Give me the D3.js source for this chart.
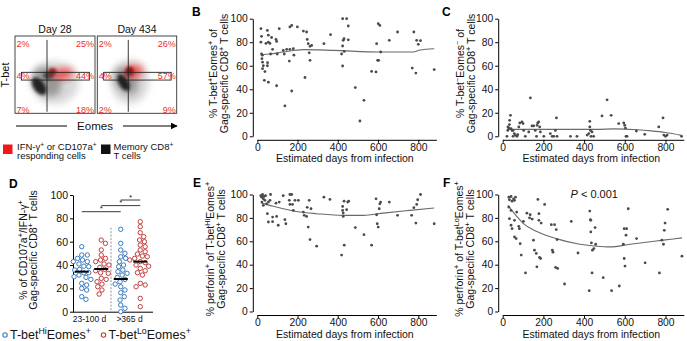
<!DOCTYPE html>
<html>
<head>
<meta charset="utf-8">
<script src="https://cdn.jsdelivr.net/npm/d3@7"></script>
<style>
  body { margin: 0; background: #fff; }
  svg { display: block; font-family: "Liberation Sans", Arial, sans-serif; }
</style>
</head>
<body>
<div id="chart"></div>
<script>
// ---------------- data ----------------
const xTicks = [0, 200, 400, 600, 800];
const yTicks = [0, 20, 40, 60, 80, 100];

// B: % T-bet+Eomes+
const bDays = [18,21,18,21,25,23,26,30,26,38,35,55,50,55,43,55,63,71,66,51,50,76,93,96,96,99,109,129,134,137,146,159,162,162,171,171,179,182,199,229,237,245,248,253,258,262,262,270,331,364,419,424,424,424,427,431,432,444,452,452,487,530,510,568,590,593,598,603,601,609,613,656,697,770,778,788,792,800,811,879];
const bPct = [91.5,85,80,70,69,66,63,60,57.5,55,47.6,46,90,86,79,80,79,84,70,62.6,60,74,82.4,80.7,43,70,91.5,73,70,25.8,74,64,74,93,94.3,38.5,74.5,69,93,89.5,50,88.7,82.4,78.8,71,76.5,64.6,77.3,78.8,86.4,70,100,76.8,59.8,81.6,83,72.2,100,93.8,82,41.4,30.6,13,55.2,54.7,78.8,64.6,64.6,95.8,94.3,71.7,81.6,88.7,58,88.7,53.8,81.6,78.2,81.3,56.7];
const bFitDays = [21,63,129,229,378,609,775,808,879];
const bFitPct = [69.4,70,71.7,73.7,73.1,71.7,71.7,73.4,74.5];

// C: % T-bet-Eomes-
const cDays = [21,25,26,30,33,34,38,41,46,51,51,57,62,70,74,79,84,95,100,103,111,128,136,144,152,160,166,169,172,177,182,185,202,234,243,251,259,264,267,333,365,415,423,428,428,431,434,439,447,488,513,533,570,595,600,603,606,611,657,698,767,788,792,800,808,879];
const cPct = [0,5,8,7,10,13.6,17.8,6.5,5,5,0,2.3,1,0,1.4,8,11.3,12.2,10.8,5,0,3.7,32.6,8.8,8.8,5,0,9.3,11.3,12.2,8,3.7,0,2.3,0,0,5,15.6,0,0,0,1,2.3,8,12.7,5,0,3.7,0,17.3,31,17.8,10.8,11.3,9.3,7,0,0,4.5,1.7,8,15.6,1,0,1,0];
const cFitDays = [21,136,300,464,546,660,730,800,879];
const cFitPct = [5.9,5.9,5.9,5.9,6.3,5.6,4.6,3.2,0.8];

// E: % perforin+ of T-betHi Eomes+
const eDays = [17,22,26,30,33,38,41,23,30,46,55,63,66,50,55,76,76,96,93,104,109,129,137,142,159,162,171,162,175,179,187,204,229,233,245,248,253,258,262,267,295,331,361,419,424,424,427,427,431,432,444,449,454,487,530,568,590,593,596,601,606,609,613,656,697,767,778,788,792,797,811,879];
const ePct = [99,97.7,100,96.3,98.3,95,99,93.5,90.7,92,93.5,95,100,83.6,76.5,80.7,76.8,81.3,92.6,73.7,93.5,99,78.5,75,95,100,100,91.5,91.5,86.4,95,95,85,82.2,81.3,89,72.2,95,61.5,87.8,55.8,97.7,95.8,48.2,89.8,86.4,84.1,81.3,94.3,56.7,87,93.5,94.3,71.7,65.7,56.7,96.3,82.7,75,72.2,87.8,92,93.5,93.5,82.2,82.2,88.7,75.6,91.5,95.5,100,75];
const eFitDays = [21,63,129,212,295,427,527,626,758,879];
const eFitPct = [92.6,90.7,87.8,85,83.6,82.2,82.2,84.1,86.4,88.4];

// F: % perforin+ of T-betLo Eomes+
const fDays = [30,33,41,46,53,58,63,30,41,69,33,58,41,46,58,66,79,82,86,91,102,112,119,132,135,145,151,156,165,168,173,178,178,181,186,189,206,239,244,247,255,260,263,267,270,304,337,370,425,428,431,433,433,436,439,441,448,454,457,494,535,573,593,597,601,597,609,606,617,658,700,770,782,790,798,794,811,881];
const fPct = [97.7,95.5,98.3,94.3,96.3,95,97.7,89.2,86.4,85,79.3,77.9,73.7,70.8,63.7,62.3,72.8,70.8,58,48.2,77,33,84,80,82.7,79,61,52.4,49.6,38.2,95.8,77.9,83.6,46.2,45.3,75.6,91.5,74.2,52.4,50.7,74.2,37.7,70,61.5,36.8,23.5,77,50,17.8,85.8,78.5,77.9,68,58.6,33,52.4,53.8,71.7,57.5,28.9,17.8,21.8,57.5,45.3,38.8,70.8,70.8,65.2,87.8,62.3,41.6,33,61,57.5,75.6,69.4,87.3,47.3];
const fFitDays = [25,66,99,165,263,379,461,527,626,790,881];
const fFitPct = [90.7,82,75.6,68.6,62.3,57.5,55.8,55.2,57.5,61,62.9];

// D: % CD107a+/IFN-g+ per phenotype and time since infection
const dPeriods = ["23-100 d", ">365 d"];
const dPhenotypes = ["Hi", "Lo"];
const dHi100 = [55.7,48.6,48.6,45.7,44.3,42.9,42.9,40.9,39,38.6,36.3,35.7,33.4,33.4,31.4,30,29.4,27.7,24.3,22.9,20,18.6,12.9,10.6];
const dLo100 = [61.4,58.6,52.9,48.6,45.7,44.3,42.9,40.9,40,38,36.3,35.1,33.4,32.9,28.6,27.7,25.7,23.7,21.4,18.6,15.1];
const dHi365 = [70.6,58.6,52.9,50,47,45.7,42.9,40,38.6,35.7,34.3,32.9,31.4,29.4,27.7,25.7,23.7,21.4,18.6,16.3,12.9,10,5.7,2.9,0];
const dLo365 = [77.1,72.9,67.7,64.3,61.4,60,57.1,55.7,52.9,51.4,49.4,47.7,47.1,45.7,44.3,42.9,42,40,39,37.1,35.1,33.4,31.4,24.3,22.9,21.4,11.4,4.3];
const dMeans = [34.3, 36.6, 28, 42.9];
// [from group, to group, bar height]
const dSignif = [[0, 2, 85.7], [1, 3, 90.9], [2, 3, 95.7]];

// A: flow plots
const flowDays = ["Day 28", "Day 434"];
// quadrant %: TL, TR, ML, MR, BL, BR
const flowPct = [["2%","25%","4%","44%","7%","18%"], ["2%","26%","4%","57%","2%","9%"]];
const eomesGate = [0.40, 0.39];
const tbetBand = [0.43, 0.53];
// density blobs: [eomes, tbet, spread eomes, spread tbet, angle], light -> dense
const memoryBlobs = [
  [[0.50,0.40,0.30,0.28,0],[0.40,0.41,0.16,0.21,-40],[0.30,0.35,0.07,0.13,-35],[0.42,0.49,0.07,0.05,0]],
  [[0.41,0.41,0.24,0.29,0],[0.36,0.42,0.13,0.19,-35],[0.33,0.40,0.06,0.12,-30],[0.40,0.52,0.06,0.05,0]]
];
const respondingBlobs = [
  [[0.60,0.51,0.13,0.07,-8],[0.47,0.54,0.05,0.045,0]],
  [[0.46,0.54,0.12,0.08,-10],[0.41,0.56,0.05,0.045,0]]
];

// ---------------- drawing ----------------
const W = 687, H = 341;
const svg = d3.select("#chart").append("svg")
  .attr("width", W).attr("height", H)
  .style("background", "#fff");

const defs = svg.append("defs");
defs.append("filter").attr("id", "blurWide").attr("x", "-50%").attr("y", "-50%").attr("width", "200%").attr("height", "200%")
  .append("feGaussianBlur").attr("stdDeviation", 3.5);
defs.append("filter").attr("id", "blurTight").attr("x", "-50%").attr("y", "-50%").attr("width", "200%").attr("height", "200%")
  .append("feGaussianBlur").attr("stdDeviation", 1.6);

const arrowId = "arrowHead";
defs.append("marker").attr("id", arrowId).attr("viewBox", "0 0 10 10")
  .attr("refX", 9).attr("refY", 5).attr("markerWidth", 7).attr("markerHeight", 7).attr("orient", "auto")
  .append("path").attr("d", "M0,0 L10,5 L0,10 z").attr("fill", "#000");

// text with ^{...} superscripts
function rich(sel, str) {
  str.split(/(\^\{[^}]*\})/).forEach(p => {
    if (!p) return;
    const m = p.match(/^\^\{([^}]*)\}$/);
    if (m) sel.append("tspan").attr("baseline-shift", "super").attr("font-size", "70%").text(m[1]);
    else sel.append("tspan").text(p);
  });
  return sel;
}

function panelLetter(x, y, s) {
  svg.append("text").attr("x", x).attr("y", y).attr("font-size", 12).attr("font-weight", "bold").text(s);
}

// ----- scatter panels B, C, E, F
const scatterPanels = [
  { letter: "B", days: bDays, pct: bPct, fitDays: bFitDays, fitPct: bFitPct, xr: [257.3, 436.4], yr: [136.3, 18.7],
    titleY: 162, lx: [192, 16], tx: [216.5, 227.5], title: ["% T-bet^{+}Eomes^{+} of", "Gag-specific CD8^{+} T cells"] },
  { letter: "C", days: cDays, pct: cPct, fitDays: cFitDays, fitPct: cFitPct, xr: [502.7, 683.8], yr: [136.3, 18.7],
    titleY: 162, lx: [442, 16], tx: [463.5, 475], title: ["% T-bet^{−}Eomes^{−} of", "Gag-specific CD8^{+} T cells"] },
  { letter: "E", days: eDays, pct: ePct, fitDays: eFitDays, fitPct: eFitPct, xr: [257.3, 436.4], yr: [311.5, 194.5],
    titleY: 338, lx: [193, 187], tx: [213.5, 224.5], title: ["% perforin^{+} of T-bet^{Hi}Eomes^{+}", "Gag-specific CD8^{+} T cells"] },
  { letter: "F", days: fDays, pct: fPct, fitDays: fFitDays, fitPct: fFitPct, xr: [502.7, 683.8], yr: [311.5, 194.5],
    titleY: 338, lx: [443, 187], tx: [463, 474], title: ["% perforin^{+} of T-bet^{Lo}Eomes^{+}", "Gag-specific CD8^{+} T cells"] }
];

scatterPanels.forEach(p => {
  const x = d3.scaleLinear().domain([0, 890]).range(p.xr);
  const y = d3.scaleLinear().domain([0, 100]).range(p.yr);
  const g = svg.append("g");

  const yAxis = g.append("g")
    .attr("transform", `translate(${p.xr[0] - 4.5},0)`)
    .call(d3.axisLeft(y).tickValues(yTicks).tickSize(3).tickSizeOuter(0).tickPadding(2));
  const xAxis = g.append("g")
    .attr("transform", `translate(0,${p.yr[0] + 3.5})`)
    .call(d3.axisBottom(x).tickValues(xTicks).tickSize(3).tickSizeOuter(0).tickPadding(0.5));
  [yAxis, xAxis].forEach(a => {
    a.attr("font-family", null);
    a.selectAll("text").attr("font-size", 10.3).attr("fill", "#111");
  });

  g.append("path")
    .datum(p.fitDays.map((d, i) => [d, p.fitPct[i]]))
    .attr("fill", "none").attr("stroke", "#6a6a6a").attr("stroke-width", 1.1)
    .attr("d", d3.line().x(d => x(d[0])).y(d => y(d[1])).curve(d3.curveMonotoneX));

  g.selectAll("circle.pt")
    .data(p.days.map((d, i) => [d, p.pct[i]]))
    .join("circle").attr("class", "pt")
    .attr("cx", d => x(d[0])).attr("cy", d => y(d[1]))
    .attr("r", 1.4).attr("fill", "#4a4a4a");

  g.append("text")
    .attr("x", (p.xr[0] + p.xr[1]) / 2 - 2).attr("y", p.titleY)
    .attr("text-anchor", "middle").attr("font-size", 10.5).attr("fill", "#111")
    .text("Estimated days from infection");

  const cy = (p.yr[0] + p.yr[1]) / 2 - 4;
  p.title.forEach((t, i) => {
    rich(g.append("text")
      .attr("transform", `translate(${p.tx[i]},${cy}) rotate(-90)`)
      .attr("text-anchor", "middle").attr("font-size", 10.5).attr("fill", "#111"), t);
  });

  panelLetter(p.lx[0], p.lx[1], p.letter);

  if (p.letter === "F") {
    const t = g.append("text").attr("x", x(450)).attr("y", y(97))
      .attr("text-anchor", "middle").attr("font-size", 11).attr("fill", "#111");
    t.append("tspan").attr("font-style", "italic").text("P");
    t.append("tspan").text(" < 0.001");
  }
});

// ----- panel D
(function () {
  const groups = [dHi100, dLo100, dHi365, dLo365];
  const colors = { Hi: "#3b7cc0", Lo: "#c0403f" };
  const y = d3.scaleLinear().domain([0, 100]).range([311.7, 195]);
  const outer = d3.scaleBand().domain(dPeriods).range([72, 150]);
  const inner = d3.scalePoint().domain(dPhenotypes).range([0, outer.bandwidth()]).padding(0.5);
  const gx = i => outer(dPeriods[Math.floor(i / 2)]) + inner(dPhenotypes[i % 2]);
  const g = svg.append("g");
  const r = 2.2;

  const yAxis = g.append("g").attr("transform", "translate(73,0)")
    .call(d3.axisLeft(y).tickValues(yTicks).tickSize(3).tickSizeOuter(0).tickPadding(2));
  yAxis.attr("font-family", null).selectAll("text").attr("font-size", 10.5).attr("fill", "#111");

  const xAxis = g.append("g").attr("transform", "translate(0,312.2)")
    .call(d3.axisBottom(outer).tickSize(0).tickSizeOuter(0).tickPadding(4));
  xAxis.attr("font-family", null).selectAll("text").attr("font-size", 8.5).attr("fill", "#111")
    .attr("dx", (d, i) => i === 0 ? -2 : -1);
  xAxis.select(".domain").attr("d", "M73,0H153");

  // dashed separator between periods
  g.append("line")
    .attr("x1", outer(dPeriods[1])).attr("x2", outer(dPeriods[1]))
    .attr("y1", y(72)).attr("y2", y(0))
    .attr("stroke", "#777").attr("stroke-width", 0.8).attr("stroke-dasharray", "2,1.5");

  function swarm(values) {
    const placed = [];
    const out = new Array(values.length);
    values.map((v, i) => i).sort((a, b) => values[b] - values[a]).forEach(i => {
      const py = y(values[i]);
      let dx = 0;
      for (let k = 0; k < 200; k++) {
        const cand = (k % 2 ? 1 : -1) * Math.ceil(k / 2) * 0.7;
        if (placed.every(q => Math.hypot(q[0] - cand, q[1] - py) >= 2 * r + 0.5)) { dx = cand; break; }
      }
      placed.push([dx, py]);
      out[i] = dx;
    });
    return out;
  }

  groups.forEach((vals, gi) => {
    const offs = swarm(vals);
    const col = colors[dPhenotypes[gi % 2]];
    g.append("g").selectAll("circle")
      .data(vals)
      .join("circle")
      .attr("cx", (d, i) => gx(gi) + offs[i]).attr("cy", d => y(d))
      .attr("r", r).attr("fill", "#fff").attr("stroke", col).attr("stroke-width", 1);
    g.append("line")
      .attr("x1", gx(gi) - 7).attr("x2", gx(gi) + 7)
      .attr("y1", y(dMeans[gi])).attr("y2", y(dMeans[gi]))
      .attr("stroke", "#000").attr("stroke-width", 2);
  });

  dSignif.forEach(s => {
    const yy = y(s[2]);
    g.append("line").attr("x1", gx(s[0])).attr("x2", gx(s[1])).attr("y1", yy).attr("y2", yy)
      .attr("stroke", "#222").attr("stroke-width", 0.9);
    g.append("text").attr("x", (gx(s[0]) + gx(s[1])) / 2).attr("y", yy - 0.5)
      .attr("text-anchor", "middle").attr("font-size", 8).attr("fill", "#222").text("*");
  });

  const cy = 250;
  [["% of CD107a^{+}/IFN-γ^{+}", 26.5], ["Gag-specific CD8^{+} T cells", 37]].forEach(t => {
    rich(g.append("text").attr("transform", `translate(${t[1]},${cy}) rotate(-90)`)
      .attr("text-anchor", "middle").attr("font-size", 10.5).attr("fill", "#111"), t[0]);
  });

  // legend
  [["Hi", 5], ["Lo", 103.5]].forEach(l => {
    g.append("circle").attr("cx", l[1]).attr("cy", 335).attr("r", r)
      .attr("fill", "#fff").attr("stroke", colors[l[0]]).attr("stroke-width", 1.1);
    rich(g.append("text").attr("x", l[1] + 5).attr("y", 339).attr("font-size", 12.5).attr("fill", "#111"),
      `T-bet^{${l[0]}}Eomes^{+}`);
  });

  panelLetter(9, 188, "D");
})();

// ----- panel A: flow plots
(function () {
  const boxes = [[15, 95], [97.3, 176.7]];
  const top = 36, bottom = 113.3;
  const memColors = ["#d0d0d0", "#8e8e8e", "#0d0d0d", "#3a3a3a"];
  const respColors = ["#ff2020", "#9a0000"];
  const red = "#ee2b2b";
  const g = svg.append("g");

  boxes.forEach((b, i) => {
    const ex = d3.scaleLinear().domain([0, 1]).range(b);
    const ty = d3.scaleLinear().domain([0, 1]).range([bottom, top]);
    const clipId = "clip" + i;
    defs.append("clipPath").attr("id", clipId).append("rect")
      .attr("x", b[0]).attr("y", top).attr("width", b[1] - b[0]).attr("height", bottom - top);
    const bg = g.append("g").attr("clip-path", `url(#${clipId})`);

    const ell = (sel, blob) => sel
      .attr("transform", `translate(${ex(blob[0])},${ty(blob[1])}) rotate(${blob[4]})`)
      .attr("rx", ex(blob[2]) - ex(0)).attr("ry", ty(0) - ty(blob[3]));

    memoryBlobs[i].forEach((blob, k) => {
      bg.append("ellipse").call(ell, blob)
        .attr("fill", memColors[k])
        .attr("opacity", k === 0 ? 0.8 : 0.85)
        .attr("filter", k < 2 ? "url(#blurWide)" : "url(#blurTight)");
    });
    respondingBlobs[i].forEach((blob, k) => {
      bg.append("ellipse").call(ell, blob)
        .attr("fill", respColors[k])
        .attr("opacity", k === 0 ? 0.75 : 0.8)
        .attr("filter", k === 0 ? "url(#blurWide)" : "url(#blurTight)");
    });

    // gates
    g.append("line").attr("x1", ex(eomesGate[i])).attr("x2", ex(eomesGate[i]))
      .attr("y1", ty(0.02)).attr("y2", ty(0.95)).attr("stroke", "#222").attr("stroke-width", 0.9);
    g.append("rect").attr("x", ex(0.08)).attr("y", ty(tbetBand[1]))
      .attr("width", ex(0.93) - ex(0.08)).attr("height", ty(tbetBand[0]) - ty(tbetBand[1]))
      .attr("fill", "none").attr("stroke", "#222").attr("stroke-width", 0.9);
    g.append("rect").attr("x", b[0]).attr("y", top).attr("width", b[1] - b[0]).attr("height", bottom - top)
      .attr("fill", "none").attr("stroke", "#333").attr("stroke-width", 0.9);

    const rows = [top + 10.5, ty((tbetBand[0] + tbetBand[1]) / 2) + 3.3, bottom - 0.8];
    flowPct[i].forEach((t, k) => {
      const right = k % 2 === 1;
      g.append("text")
        .attr("x", right ? b[1] - 1 : b[0] + 1.5).attr("y", rows[Math.floor(k / 2)])
        .attr("text-anchor", right ? "end" : "start")
        .attr("font-size", 9).attr("fill", red).text(t);
    });

    g.append("text").attr("x", (b[0] + b[1]) / 2).attr("y", 32.5)
      .attr("text-anchor", "middle").attr("font-size", 10.5).attr("fill", "#111").text(flowDays[i]);
  });

  g.append("text").attr("transform", "translate(8.5,75) rotate(-90)")
    .attr("text-anchor", "middle").attr("font-size", 11).attr("fill", "#111").text("T-bet");

  g.append("line").attr("x1", 16).attr("x2", 67).attr("y1", 126).attr("y2", 126).attr("stroke", "#000").attr("stroke-width", 1);
  g.append("text").attr("x", 95).attr("y", 130).attr("text-anchor", "middle").attr("font-size", 11.5).attr("fill", "#111").text("Eomes");
  g.append("line").attr("x1", 123).attr("x2", 177).attr("y1", 126).attr("y2", 126).attr("stroke", "#000")
    .attr("stroke-width", 1).attr("marker-end", `url(#${arrowId})`);

  // legend
  g.append("rect").attr("x", 3).attr("y", 144.5).attr("width", 9.5).attr("height", 9.5).attr("fill", "#f01818");
  rich(g.append("text").attr("x", 17).attr("y", 149.5).attr("font-size", 9.5).attr("fill", "#111"), "IFN-γ^{+} or CD107a^{+}");
  g.append("text").attr("x", 17).attr("y", 159).attr("font-size", 9.5).attr("fill", "#111").text("responding cells");
  g.append("rect").attr("x", 101).attr("y", 144.5).attr("width", 9.5).attr("height", 9.5).attr("fill", "#111");
  rich(g.append("text").attr("x", 113.5).attr("y", 149.5).attr("font-size", 9.5).attr("fill", "#111"), "Memory CD8^{+}");
  g.append("text").attr("x", 113.5).attr("y", 159).attr("font-size", 9.5).attr("fill", "#111").text("T cells");
})();
</script>
</body>
</html>
